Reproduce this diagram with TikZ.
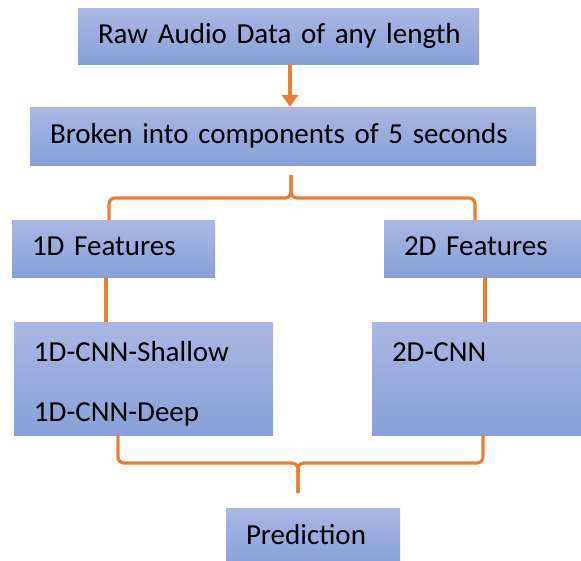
\documentclass[tikz,border=0pt]{standalone}
\usepackage{fontspec}
\setmainfont{Carlito}[WordSpace=0.75]
\usetikzlibrary{arrows.meta}
\definecolor{boxtop}{RGB}{170,183,226}
\definecolor{boxbottom}{RGB}{136,160,216}
\definecolor{linkorange}{RGB}{237,125,49}

\begin{document}
\begin{tikzpicture}[x=1pt,y=-1pt]

    \useasboundingbox (0,0) rectangle (581,560);

    \tikzset{boxstyle/.style={rectangle,top color=boxtop,bottom color=boxbottom,draw=none,
        inner xsep=20pt,inner ysep=0pt,align=left,font=\fontsize{29}{35}\selectfont}}
    \tikzset{linkstyle/.style={draw=linkorange,line width=3.2pt}}
    \tikzset{bracestyle/.style={linkstyle,rounded corners=6pt}}

    \node[boxstyle,text width=361pt,minimum height=56pt] (raw) at (278.5,36) {\strut\mbox{Raw Audio Data of any length}};
    \node[boxstyle,text width=466pt,minimum height=58pt] (split) at (283,136) {\strut\mbox{Broken into components of 5 seconds}};
    \node[boxstyle,text width=163pt,minimum height=57pt] (feat1) at (113.5,248.5) {\strut 1D Features};
    \node[boxstyle,text width=157pt,minimum height=57pt] (feat2) at (482.5,248.5) {\strut 2D Features};
    \node[boxstyle,text width=219pt,minimum height=113pt] (cnn1) at (143.5,378.5)
        {\rule{0pt}{35.5pt}1D-CNN-Shallow\\[25pt]1D-CNN-Deep\strut};
    \node[boxstyle,text width=169pt,minimum height=113pt] (cnn2) at (476.5,378.5)
        {\rule{0pt}{35.5pt}2D-CNN\\[25pt]\strut};
    \node[boxstyle,text width=134pt,minimum height=58pt] (pred) at (313,537) {\strut Prediction};

    % puntos de referencia
    \coordinate (xa) at (290,0);
    \coordinate (xl1) at (109,0);
    \coordinate (xr1) at (475,0);
    \coordinate (xl2) at (106,0);
    \coordinate (xr2) at (485,0);
    \coordinate (xl3) at (118,0);
    \coordinate (xr3) at (483,0);
    \coordinate (tip1) at (291,175);
    \coordinate (tip2) at (298,493);

    \draw[linkstyle,-{Triangle[width=16pt,length=12pt]}] (raw.south -| xa) -- (split.north -| xa);

    \draw[bracestyle] (tip1) -- ++(0,23) -| (feat1.north -| xl1);
    \draw[bracestyle] (tip1) -- ++(0,23) -| (feat2.north -| xr1);

    \draw[linkstyle] (feat1.south -| xl2) -- (cnn1.north -| xl2);
    \draw[linkstyle] (feat2.south -| xr2) -- (cnn2.north -| xr2);

    \draw[bracestyle] (tip2) -- ++(0,-30) -| (cnn1.south -| xl3);
    \draw[bracestyle] (tip2) -- ++(0,-30) -| (cnn2.south -| xr3);

\end{tikzpicture}
\end{document}
